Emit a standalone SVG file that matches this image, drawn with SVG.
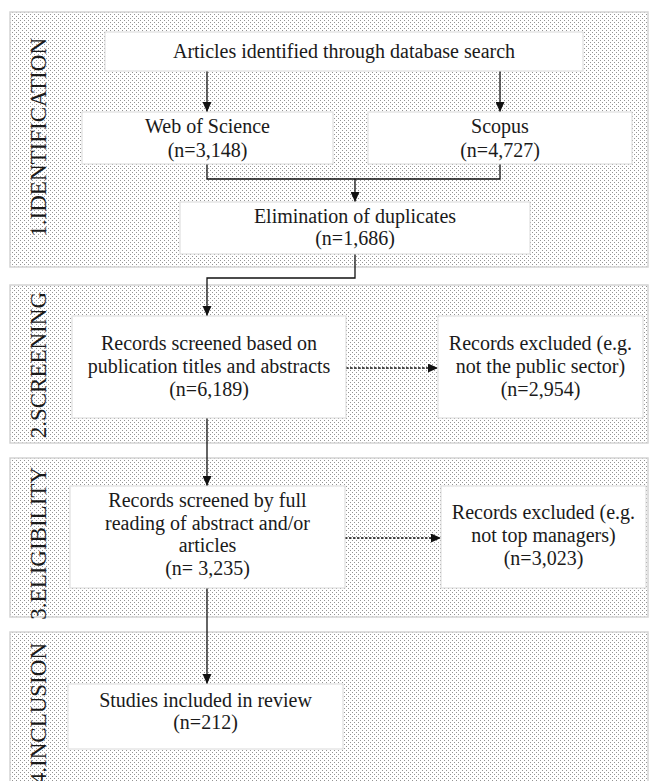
<svg xmlns="http://www.w3.org/2000/svg" width="650" height="781" viewBox="0 0 650 781">
<style>
.panel{fill:url(#dots);stroke:#d4d4d4;stroke-width:1.5}
.box{fill:#fff;stroke:#d9d9d9;stroke-width:1}
.t{font-family:"Liberation Serif","Times New Roman",serif;font-size:20px;fill:#1a1a1a;text-anchor:middle}
.lab{font-family:"Liberation Serif","Times New Roman",serif;font-size:23px;fill:#1a1a1a;text-anchor:end}
.c{fill:none;stroke:#111;stroke-width:1.3}
.d{fill:none;stroke:#111;stroke-width:1.3;stroke-dasharray:2.5,1.5}
</style>
<defs>
<pattern id="dots" width="4" height="4" patternUnits="userSpaceOnUse">
<rect width="4" height="4" fill="#fff"/>
<rect x="0" y="0" width="1" height="1" fill="#939393"/>
<rect x="2" y="2" width="1" height="1" fill="#939393"/>
</pattern>
<marker id="ah" markerUnits="userSpaceOnUse" markerWidth="10" markerHeight="9" refX="10" refY="4.5" orient="auto">
<path d="M0,0 L10,4.5 L0,9 z" fill="#111"/>
</marker>
</defs>
<g id="panels">
<rect class="panel" x="10" y="12" width="638" height="255"/>
<rect class="panel" x="10" y="285" width="638" height="158"/>
<rect class="panel" x="10" y="458" width="638" height="159"/>
<rect class="panel" x="10" y="632" width="638" height="160"/>
<text class="lab" transform="translate(46,38) rotate(-90)">1.IDENTIFICATION</text>
<text class="lab" transform="translate(46,292) rotate(-90)">2.SCREENING</text>
<text class="lab" transform="translate(46,467) rotate(-90)">3.ELIGIBILITY</text>
<text class="lab" transform="translate(46,643) rotate(-90)">4.INCLUSION</text>
</g>
<g id="connectors">
<path class="c" d="M207,71 V112" marker-end="url(#ah)"/>
<path class="c" d="M500,71 V112" marker-end="url(#ah)"/>
<path class="c" d="M207,164 V179 H500 V164"/>
<path class="c" d="M355,179 V202" marker-end="url(#ah)"/>
<path class="c" d="M355,254 V278 H207 V316" marker-end="url(#ah)"/>
<path class="c" d="M207,418 V486" marker-end="url(#ah)"/>
<path class="c" d="M207,588 V684" marker-end="url(#ah)"/>
<path class="d" d="M346,368 H438" marker-end="url(#ah)"/>
<path class="d" d="M345,538 H441" marker-end="url(#ah)"/>
</g>
<g id="n-articles">
<rect class="box" x="105" y="32" width="478" height="39"/>
<text class="t" x="344" y="58">Articles identified through database search</text>
</g>
<g id="n-wos">
<rect class="box" x="82" y="112" width="251" height="52"/>
<text class="t" x="207.5" y="133">Web of Science</text>
<text class="t" x="207.5" y="157">(n=3,148)</text>
</g>
<g id="n-scopus">
<rect class="box" x="368" y="112" width="264" height="52"/>
<text class="t" x="500" y="133">Scopus</text>
<text class="t" x="500" y="157">(n=4,727)</text>
</g>
<g id="n-dup">
<rect class="box" x="180" y="202" width="350" height="52"/>
<text class="t" x="355" y="223">Elimination of duplicates</text>
<text class="t" x="355" y="245">(n=1,686)</text>
</g>
<g id="n-screen">
<rect class="box" x="72" y="316" width="274" height="102"/>
<text class="t" x="209" y="350">Records screened based on</text>
<text class="t" x="209" y="373">publication titles and abstracts</text>
<text class="t" x="209" y="396">(n=6,189)</text>
</g>
<g id="n-excl1">
<rect class="box" x="438" y="316" width="205" height="102"/>
<text class="t" x="540.5" y="350">Records excluded (e.g.</text>
<text class="t" x="540.5" y="373">not the public sector)</text>
<text class="t" x="540.5" y="396">(n=2,954)</text>
</g>
<g id="n-full">
<rect class="box" x="70" y="486" width="275" height="102"/>
<text class="t" x="207.5" y="507">Records screened by full</text>
<text class="t" x="207.5" y="530">reading of abstract and/or</text>
<text class="t" x="207.5" y="552">articles</text>
<text class="t" x="207.5" y="575">(n= 3,235)</text>
</g>
<g id="n-excl2">
<rect class="box" x="441" y="486" width="205" height="102"/>
<text class="t" x="543.5" y="519">Records excluded (e.g.</text>
<text class="t" x="543.5" y="542">not top managers)</text>
<text class="t" x="543.5" y="565">(n=3,023)</text>
</g>
<g id="n-incl">
<rect class="box" x="68" y="684" width="275" height="65"/>
<text class="t" x="205.5" y="707">Studies included in review</text>
<text class="t" x="205.5" y="729">(n=212)</text>
</g>
</svg>
